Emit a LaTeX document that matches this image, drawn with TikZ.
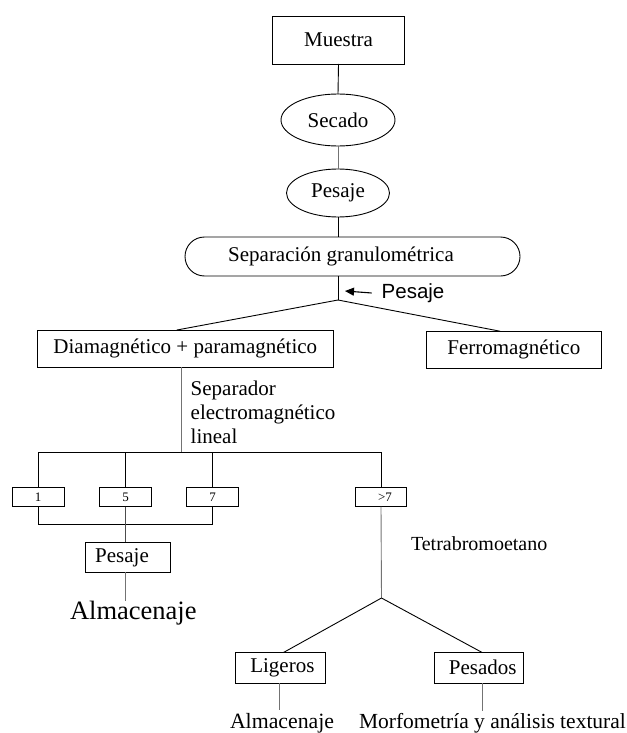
\documentclass[tikz,border=0pt]{standalone}
\usepackage{fontspec}
\setmainfont{Liberation Serif}
\newfontfamily\arialf{Liberation Sans}
\usetikzlibrary{shapes.geometric,arrows.meta}
\begin{document}
\begin{tikzpicture}[x=1pt,y=-1pt,
  every node/.style={inner sep=0pt,outer sep=0pt},
  txt/.style={font=\fontsize{21}{24}\selectfont},
  box/.style={draw,line width=0.9pt,rectangle,txt},
  ell/.style={draw,line width=0.9pt,ellipse,txt},
  smallbox/.style={draw,line width=0.9pt,rectangle,font=\fontsize{13}{15}\selectfont,minimum width=51.7pt,minimum height=19pt},
  ln/.style={line width=0.9pt,draw=black},
  gln/.style={line width=0.9pt,draw=black!55},
]
\useasboundingbox (0,0) rectangle (626,733);

% top chain
\node[box,minimum width=131.6pt,minimum height=48pt] (muestra) at (338.5,40) {Muestra};
\node[ell,minimum width=114pt,minimum height=52pt] (secado) at (338,120) {Secado};
\node[ell,minimum width=103pt,minimum height=48pt] (pes1) at (338,193) {Pesaje};
\node[box,rounded corners=19.5pt,minimum width=335pt,minimum height=39pt] (sep) at (352.5,256.5) {\hspace*{-23pt}Separación granulométrica};

\draw[ln] (muestra.south) -- (secado.north);
\draw[gln] (secado.south) -- (pes1.north);
\draw[ln] (pes1.south) -- (pes1.south |- sep.north);

\coordinate (j1) at (338,300);
\draw[ln] (sep.south -| j1) -- (j1);

% side label with arrow
\node[anchor=base west,font=\arialf\fontsize{20.5}{24}\selectfont] (pesS) at (381.7,298.3) {Pesaje};
\coordinate (atip) at (345,291);
\draw[line width=1.1pt,-{Triangle[length=9pt,width=8pt]}] ([xshift=-10pt]pesS.west) -- (atip);

% magnetic split
\node[box,minimum width=295.3pt,minimum height=37.3pt] (dia) at (185.3,348.7) {Diamagnético + paramagnético};
\node[box,minimum width=175.7pt,minimum height=37pt] (ferro) at (513.8,349.7) {Ferromagnético};
\draw[ln] (j1) -- ([xshift=-8.6pt]dia.north);
\draw[ln] (j1) -- ([xshift=-13.8pt]ferro.north);

% separator label
\node[txt,align=left,anchor=north west] (sepl) at (190.7,381) {Separador\\electromagnético\\lineal};

\coordinate (bus) at (181,452.7);
\draw[gln] (dia.south -| bus) -- (bus);

% fraction boxes
\node[smallbox,minimum width=52pt] (b1) at (38,497.2) {1};
\node[smallbox] (b5) at (125.7,497.2) {5};
\node[smallbox] (b7) at (212.7,497.2) {7};
\node[smallbox] (bgt) at (381,497) {\hspace*{8pt}>7};

\draw[ln] (b1.north) -- (b1.north |- bus) -- (bgt.north |- bus) -- (bgt.north);
\draw[ln] (b5.north) -- (b5.north |- bus);
\draw[ln] (b7.north) -- (b7.north |- bus);

\coordinate (bus2) at (0,524.5);
\draw[ln] (b1.south) -- (b1.south |- bus2) -- (b7.south |- bus2) -- (b7.south);

% left branch
\node[box,minimum width=85.4pt,minimum height=30pt] (pes2) at (128,557.3) {\hspace*{-12pt}Pesaje};
\draw[draw=black!70,line width=0.9pt] (b5.south) -- (b5.south |- pes2.north);
\node[anchor=base west,font=\fontsize{26.5}{30}\selectfont] (alm1) at (70,619) {Almacenaje};
\draw[gln] (pes2.south -| b5) -- (alm1.north -| b5);

% right branch
\node[anchor=base west,font=\fontsize{20}{24}\selectfont] (tetra) at (411,550) {Tetrabromoetano};
\coordinate (j2) at (381.5,598);
\draw[gln] (bgt.south) -- (j2);

\node[box,minimum width=90.7pt,minimum height=30.5pt] (lig) at (280.4,667.8) {\hspace*{4pt}Ligeros};
\node[box,minimum width=89pt,minimum height=31pt] (pes3) at (478.8,667.8) {\hspace*{8pt}Pesados};
\draw[ln] (j2) -- ([xshift=3pt]lig.north);
\draw[ln] (j2) -- ([xshift=3pt]pes3.north);

\coordinate (e1) at (279.3,710);
\coordinate (e2) at (482.3,710.7);
\draw[gln] (lig.south -| e1) -- (e1);
\draw[gln] (pes3.south -| e2) -- (e2);

\node[anchor=base west,font=\fontsize{21.8}{24}\selectfont] (alm2) at (230,728) {Almacenaje};
\node[anchor=base west,font=\fontsize{21.5}{24}\selectfont] (morf) at (359,728) {Morfometría y análisis textural};
\end{tikzpicture}
\end{document}
